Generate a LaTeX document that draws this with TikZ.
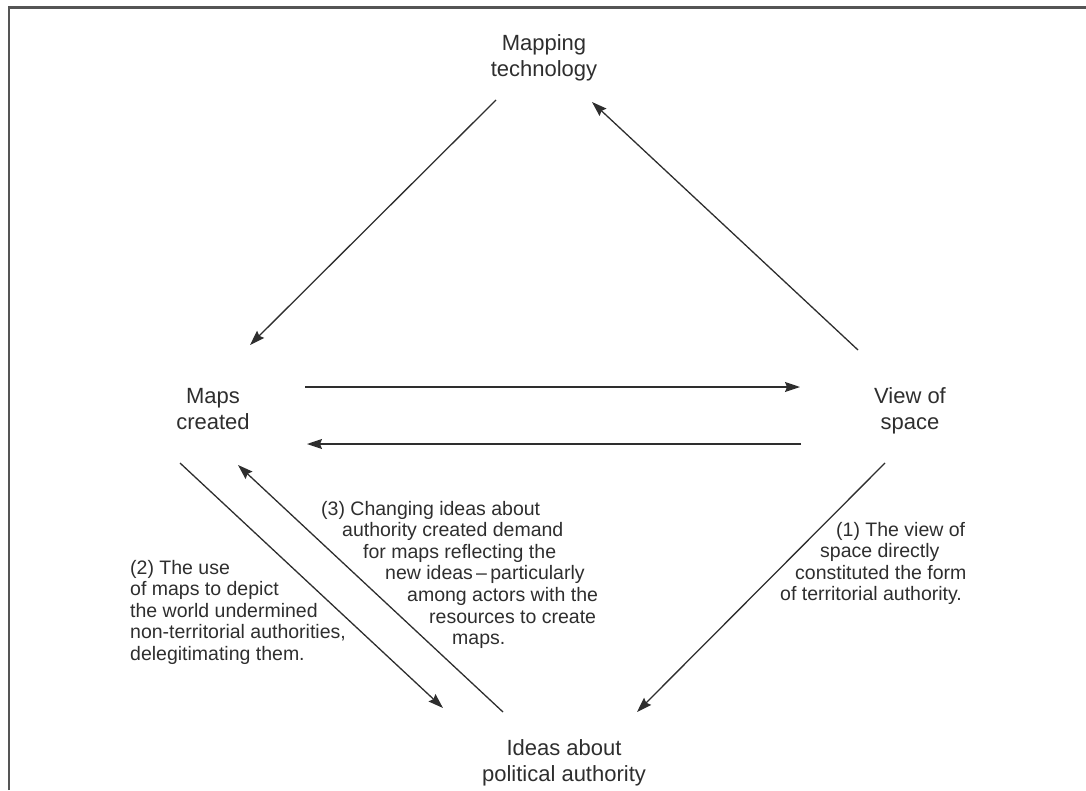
\documentclass[tikz,border=0pt]{standalone}
\usepackage{fontspec}
\setmainfont{Liberation Sans}
\usetikzlibrary{arrows.meta,calc}
\definecolor{ink}{HTML}{2E2E2E}
\definecolor{framecol}{HTML}{555555}
\tikzset{
  concept/.style={inner sep=0pt, align=center, text=ink, font=\fontsize{22}{26}\selectfont},
  note/.style={inner sep=0pt, align=left, text=ink, anchor=north west, font=\fontsize{19.5}{21.6}\selectfont},
  arr/.style={draw=ink, line width=1.3pt, -{Stealth[length=15pt,width=10pt,inset=2pt]}},
  framel/.style={draw=framecol, line width=2.2pt}
}
\begin{document}
\begin{tikzpicture}[x=1pt,y=-1pt]
\useasboundingbox (0,0) rectangle (1086,790);
% frame (top and left edges)
\draw[framel] (9,790) -- (9,7.5) -- (1086,7.5);

% concepts
\node[concept] (mt) at (544,58)    {Mapping\\technology};
\node[concept] (mc) at (213,408.6) {Maps\\created};
\node[concept] (vs) at (910,410.8) {View of\\space};
\node[concept] (ip) at (564,762.8) {Ideas about\\political authority};

% connectors
\draw[arr] ($(mt)+(-48,42)$)     -- ($(mc)+(37,-63.6)$);
\draw[arr] ($(vs)+(-52,-60.8)$)  -- ($(mt)+(48,44)$);
\draw[arr] ($(mc)+(92,-21.6)$)   -- ($(vs)+(-110,-23.8)$);
\draw[arr] ($(vs)+(-109,33.2)$)  -- ($(mc)+(94,35.4)$);
\draw[arr] ($(vs)+(-25,52.2)$)   -- ($(ip)+(73,-50.8)$);
\draw[arr] ($(mc)+(-33,54.4)$)   -- ($(ip)+(-121,-54.8)$);
\draw[arr] ($(ip)+(-61,-50.8)$)  -- ($(mc)+(25,56.4)$);

% annotations
\node[note] (n1) at (780,521.8) {\hspace*{56pt}(1) The view of\\
\hspace*{40pt}space directly\\
\hspace*{15pt}constituted the form\\
of territorial authority.};
\node[note] (n2) at (130,559.8) {(2) The use\\
of maps to depict\\
the world undermined\\
non-territorial authorities,\\
delegitimating them.};
\node[note] (n3) at (321,500.8) {(3) Changing ideas about\\
\hspace*{21pt}authority created demand\\
\hspace*{42pt}for maps reflecting the\\
\hspace*{64pt}new ideas\,--\,particularly\\
\hspace*{86pt}among actors with the\\
\hspace*{108pt}resources to create\\
\hspace*{131pt}maps.};
\end{tikzpicture}
\end{document}
